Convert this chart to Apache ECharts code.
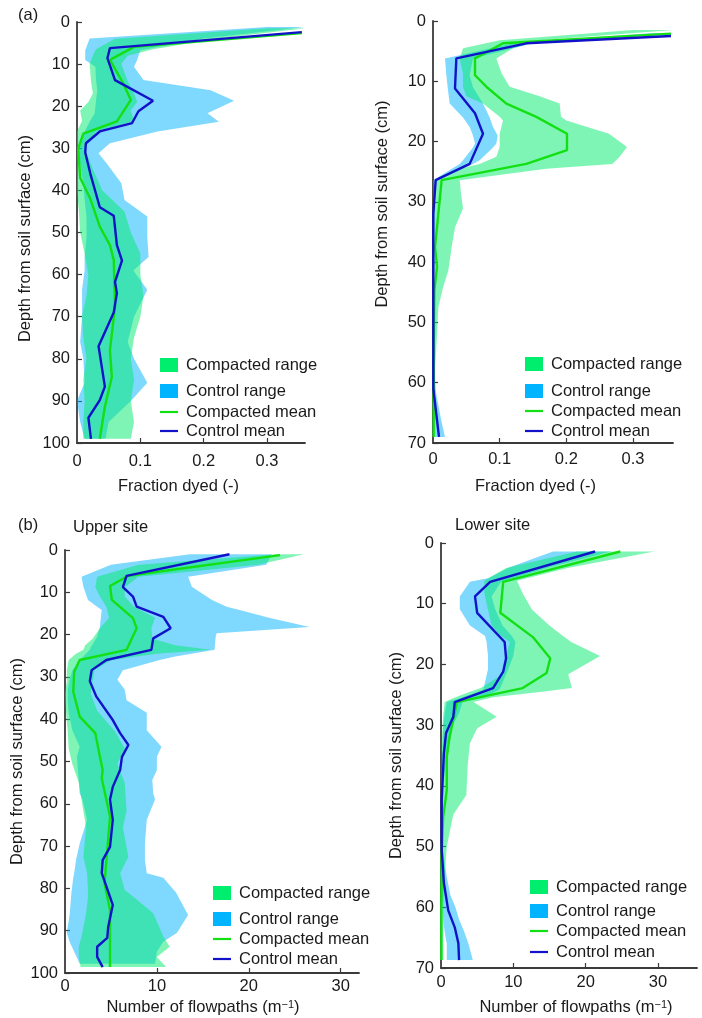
<!DOCTYPE html>
<html><head><meta charset="utf-8">
<script src="https://cdn.jsdelivr.net/npm/echarts@6/dist/echarts.min.js"></script>
<style>html,body{margin:0;padding:0;background:#fff}#c{width:702px;height:1018px}</style>
</head><body><div id="c"></div>
<script>
const FONT = '"Liberation Sans", Arial, Helvetica, sans-serif';
const TXT = '#1a1a1a';
const AX = '#3a3a3a';
const C_CMP_FILL = 'rgba(0,236,108,0.5)';
const C_CTL_FILL = 'rgba(0,178,252,0.5)';
const C_CMP_SOLID = 'rgb(0,238,110)';
const C_CTL_SOLID = 'rgb(0,180,255)';
const C_CMP_LINE = '#12e012';
const C_CTL_LINE = '#1212c8';

const xTicksFrac = [0, 0.1, 0.2, 0.3];
const xTicksFlow = [0, 10, 20, 30];
const yTicks100 = [0, 10, 20, 30, 40, 50, 60, 70, 80, 90, 100];
const yTicks70 = [0, 10, 20, 30, 40, 50, 60, 70];

// ---------- Panel (a) left: fraction dyed, upper site ----------
const a1CmpMeanDepth = [2.6, 5.9, 9, 14.6, 18.5, 23.6, 26.5, 30, 37, 42, 48.6, 53, 56.5, 67.6, 78, 84.3, 91.4, 99];
const a1CmpMean = [0.355, 0.09, 0.052, 0.073, 0.085, 0.063, 0.01, 0.002, 0.005, 0.021, 0.036, 0.052, 0.058, 0.06, 0.052, 0.055, 0.044, 0.036];
const a1CtlMeanDepth = [2.4, 6.2, 8.6, 13.8, 18.7, 21.2, 24, 26, 28.8, 31, 36, 44, 46, 53, 56.7, 61.7, 64.4, 69, 77, 86.6, 89.8, 94, 99];
const a1CtlMean = [0.355, 0.052, 0.048, 0.06, 0.12, 0.097, 0.087, 0.036, 0.014, 0.013, 0.021, 0.036, 0.058, 0.063, 0.071, 0.06, 0.063, 0.058, 0.034, 0.044, 0.036, 0.018, 0.022];
const a1CtlRangeDepth = [1.2, 3.9, 6.7, 9, 10.6, 13.8, 16.2, 18.7, 21.7, 23.7, 26, 28.8, 31.2, 33.6, 38.3, 42.3, 46.2, 51, 55.8, 59, 63.6, 70, 76, 80, 85.7, 90, 95, 99];
const a1CtlLo = [0.30, 0.02, 0.013, 0.013, 0.029, 0.03, 0.032, 0.03, 0.028, 0.02, 0.012, 0.005, 0.003, 0.005, 0.01, 0.012, 0.015, 0.015, 0.012, 0.012, 0.008, 0.008, 0.005, 0.01, 0.012, 0.0, 0.005, 0.012];
const a1CtlHi = [0.36, 0.2, 0.1, 0.095, 0.09, 0.105, 0.211, 0.248, 0.206, 0.224, 0.127, 0.052, 0.034, 0.047, 0.07, 0.075, 0.111, 0.111, 0.113, 0.089, 0.111, 0.09, 0.08, 0.09, 0.111, 0.085, 0.05, 0.045];
const a1CmpRangeDepth = [1.5, 4, 6.5, 8, 10, 14, 17, 19, 21, 23.5, 26, 30, 35, 40, 45, 50, 55, 60, 65, 70, 75, 80, 85, 90, 95, 99];
const a1CmpLo = [0.30, 0.06, 0.03, 0.025, 0.02, 0.022, 0.025, 0.018, 0.005, 0.008, 0.0, 0.0, 0.0, 0.0, 0.003, 0.005, 0.012, 0.018, 0.015, 0.008, 0.01, 0.015, 0.01, 0.012, 0.01, 0.01];
const a1CmpHi = [0.36, 0.22, 0.12, 0.08, 0.07, 0.08, 0.09, 0.095, 0.085, 0.09, 0.03, 0.012, 0.025, 0.04, 0.075, 0.085, 0.1, 0.1, 0.105, 0.1, 0.09, 0.085, 0.09, 0.085, 0.09, 0.085];

// ---------- Panel (a) right: fraction dyed, lower site ----------
const a2CmpMeanDepth = [2.1, 3.7, 6.2, 9, 10.9, 13.7, 15.9, 18.7, 21.4, 23.7, 26.4, 32, 37.5, 40.8, 44.7, 55, 69];
const a2CmpMean = [0.357, 0.105, 0.063, 0.063, 0.08, 0.11, 0.155, 0.201, 0.201, 0.14, 0.013, 0.008, 0.003, 0.006, 0.002, 0.001, 0.001];
const a2CtlMeanDepth = [2.5, 3.7, 6.2, 11.2, 15.3, 18.7, 23.7, 26.4, 32, 45, 61, 69];
const a2CtlMean = [0.357, 0.14, 0.035, 0.033, 0.063, 0.075, 0.055, 0.004, 0.0005, 0.0005, 0.0005, 0.009];
const a2CtlRangeDepth = [2, 3.7, 6.2, 9, 11, 13.7, 16, 17.6, 19, 20.3, 21, 23.1, 23.7, 26.4, 30, 40, 50, 58, 62, 66, 69];
const a2CtlLo = [0.33, 0.12, 0.018, 0.02, 0.022, 0.025, 0.045, 0.055, 0.06, 0.063, 0.06, 0.045, 0.04, 0.0, 0, 0, 0, 0, 0, 0.001, 0.002];
const a2CtlHi = [0.36, 0.15, 0.06, 0.055, 0.06, 0.075, 0.085, 0.09, 0.097, 0.095, 0.09, 0.07, 0.06, 0.006, 0.002, 0.001, 0.001, 0.002, 0.005, 0.012, 0.018];
const a2CmpRangeDepth = [1.5, 3.2, 4.5, 6.2, 8.7, 10.9, 12.5, 13.7, 15.9, 16.5, 18.7, 20.9, 22.5, 23.7, 24.5, 26.4, 28.6, 31.1, 34.2, 37.5, 41.4, 44.2, 47.5, 52, 58, 64, 69];
const a2CmpLo = [0.30, 0.10, 0.045, 0.04, 0.045, 0.045, 0.05, 0.075, 0.1, 0.105, 0.1, 0.1, 0.095, 0.07, 0.04, 0.004, 0.002, 0.0, 0.0, 0.0, 0.0, 0.0, 0.0, 0.0, 0.0, 0.0, 0.0];
const a2CmpHi = [0.36, 0.16, 0.12, 0.095, 0.103, 0.115, 0.16, 0.19, 0.192, 0.2, 0.264, 0.291, 0.28, 0.269, 0.17, 0.04, 0.042, 0.045, 0.033, 0.028, 0.023, 0.015, 0.008, 0.006, 0.003, 0.003, 0.003];

// ---------- Panel (b) left: flowpaths, upper site ----------
const b1CtlMeanDepth = [1, 6.1, 8.8, 11, 13.4, 15.8, 18.5, 20.9, 23.6, 26, 28.4, 31, 34.6, 40.2, 43.3, 46.1, 48.9, 52, 56, 59, 63.8, 70.2, 73.3, 76.4, 83.9, 89.1, 91.7, 93.8, 96.2, 98.6];
const b1CtlMean = [17.9, 6.7, 6.3, 7.4, 7.8, 10.7, 11.5, 9.6, 9.4, 4.5, 2.9, 2.7, 3.4, 5.2, 6, 6.9, 6.2, 6, 5.2, 4.9, 5.2, 4.9, 4.1, 4, 5.2, 4.7, 4.6, 3.5, 3.5, 4.1];
const b1CmpMeanDepth = [1.2, 6.1, 8.5, 11.8, 16.1, 18.5, 23.6, 26, 28.8, 33.5, 39.4, 43.3, 48.9, 52, 54, 63, 71, 78.8, 85.1, 98.6];
const b1CmpMean = [23.4, 6.9, 4.9, 5.1, 7.4, 7.8, 6.7, 1.6, 1, 0.9, 1.6, 3.3, 3.8, 4.1, 4, 4.9, 4.6, 4.3, 4.9, 4.9];
const b1CtlRangeDepth = [1, 3.5, 6.3, 8.7, 11.8, 13.4, 14.2, 16, 18.2, 19.7, 20.5, 23, 23.6, 25.2, 26, 28.4, 30.7, 33, 35.5, 38.5, 42.6, 46.5, 48.9, 52, 54.4, 57.5, 59, 63.8, 69.4, 73.3, 76.4, 77.5, 81, 86.3, 90.5, 92.6, 95, 97.8];
const b1CtlLo = [13.6, 5, 1.8, 2, 2.5, 3.5, 4, 3.9, 3.8, 3.6, 3.5, 2.8, 2.7, 2, 1.6, 0.8, 0.5, 0.3, 0.3, 0.4, 0.8, 1.6, 1.3, 1.4, 1.5, 1.6, 1.9, 2.4, 1.6, 1.2, 1.0, 0.9, 0.7, 0.5, 0.2, 0.5, 1.0, 1.6];
const b1CtlHi = [22.5, 21.9, 13.4, 13.8, 16, 17.6, 19, 22.2, 26.6, 16.5, 16.4, 16.3, 16.3, 12, 10.3, 6.3, 5.7, 6.5, 6.7, 8.9, 8.9, 10.5, 10, 10, 9.5, 9.6, 9.8, 8.9, 8.7, 8.7, 8.9, 10.7, 12.1, 13.4, 12.2, 10.7, 10, 9.8];
const b1CmpRangeDepth = [1, 3.5, 6.3, 8.8, 11, 13.4, 16, 18.5, 21, 22.5, 23.6, 24.5, 26, 28.4, 31, 34, 38, 43, 47, 50.6, 55, 61.7, 65.6, 72.5, 76.4, 80.4, 81.9, 85.9, 91.4, 93.8, 96.2, 98.6];
const b1CmpLo = [23, 8, 3.5, 3.3, 3.8, 4.5, 4.8, 3.8, 3, 2.2, 2, 1.2, 0.4, 0.2, 0.2, 0.0, 0.1, 0.3, 0.4, 0.8, 1.5, 2.0, 2.3, 2.0, 2.4, 2.5, 2.5, 2.3, 1.8, 1.5, 1.5, 1.7];
const b1CmpHi = [26, 21, 8, 6.5, 6.5, 7.5, 9.8, 9.4, 9.5, 12, 15.8, 10, 5, 3.2, 3, 2.8, 3.5, 5.5, 6.5, 5.7, 6.5, 6.7, 6.3, 6.9, 6, 6.5, 7.4, 9.6, 10.7, 11.4, 10, 11];

// ---------- Panel (b) right: flowpaths, lower site ----------
const b2CtlMeanDepth = [1.4, 6.4, 8.8, 11.5, 16.3, 19, 21.2, 23.9, 26.2, 28.6, 31.3, 34.6, 42.3, 50.6, 56, 60.5, 63.3, 65.9, 68.7];
const b2CtlMean = [21.3, 6.8, 4.7, 5, 8.8, 9, 8.6, 7.2, 1.9, 1.7, 0.7, 0.4, 0.1, 0.1, 0.4, 1, 1.9, 2.4, 2.5];
const b2CmpMeanDepth = [1.4, 6.4, 11.5, 15.5, 19, 21.4, 23.9, 26.2, 31.9, 35.2, 40.7, 45.1, 50.6, 60, 68.7];
const b2CmpMean = [24.8, 8.6, 8.2, 12.7, 15.1, 14.6, 11.3, 2.2, 1.2, 0.8, 0.8, 0.3, 0.1, 0.05, 0.05];
const b2CtlRangeDepth = [1.4, 4, 5.8, 6.4, 8.8, 10.9, 13.6, 15.3, 16.3, 18.6, 20.8, 23.9, 24.2, 25.4, 26.2, 28, 30.4, 35, 40, 50, 55, 58, 60, 62, 64, 66, 68.7];
const b2CtlLo = [15.5, 9.5, 6.5, 4, 2.6, 2.6, 4, 6.1, 6.3, 6.5, 6.5, 5.9, 5.8, 3, 0.8, 0.5, 0.3, 0.2, 0.1, 0.0, 0.0, 0.1, 0.2, 0.3, 0.5, 0.8, 0.8];
const b2CtlHi = [23.5, 15, 10, 8.3, 7, 7.5, 8.5, 9.8, 10.3, 10, 9.3, 8.2, 8, 6, 3, 2.5, 1.5, 0.8, 0.3, 0.2, 0.8, 1.3, 2, 2.5, 3.2, 3.8, 4.4];
const b2CmpRangeDepth = [1.4, 4.1, 6.2, 8.3, 11, 13.6, 15, 16.3, 18.6, 21.6, 23.9, 24.5, 25.4, 26.2, 28.6, 30.5, 33, 36.5, 41.5, 44.7, 50, 55, 60, 64, 68.7];
const b2CmpLo = [18.8, 9, 6, 6, 6.5, 7, 8, 9.5, 9, 8.5, 5.5, 4, 2, 0.5, 0.3, 0.2, 0.1, 0.1, 0.0, 0.0, 0.0, 0.0, 0.0, 0.0, 0.0];
const b2CmpHi = [29.5, 17.5, 10.5, 11.3, 12.6, 15, 16.5, 18, 22, 17.6, 18.1, 14, 7.2, 4.5, 7.7, 5, 4, 3.7, 3.5, 1.7, 0.8, 0.5, 0.3, 0.3, 0.3];

const NAMES = {cmpR: 'Compacted range', ctlR: 'Control range', cmpM: 'Compacted mean', ctlM: 'Control mean'};

function band(name, idx, depth, lo, hi, fill, z) {
  return {
    type: 'custom', name: name, xAxisIndex: idx, yAxisIndex: idx, silent: true, z: z,
    data: depth.map((d, i) => [lo[i], hi[i], d]),
    encode: {x: [0, 1], y: 2},
    renderItem: function (params, api) {
      if (params.dataIndex !== 0) return null;
      const pts = [];
      for (let i = 0; i < depth.length; i++) pts.push(api.coord([lo[i], depth[i]]));
      for (let i = depth.length - 1; i >= 0; i--) pts.push(api.coord([hi[i], depth[i]]));
      return {type: 'polygon', shape: {points: pts}, style: {fill: fill}};
    }
  };
}
function meanLine(name, idx, depth, vals, color) {
  return {
    type: 'line', name: name, xAxisIndex: idx, yAxisIndex: idx, silent: true, z: 5,
    data: depth.map((d, i) => [vals[i], d]),
    showSymbol: false, symbol: 'none',
    lineStyle: {width: 2.4, color: color}, itemStyle: {color: color}
  };
}
const txt = {fontSize: 16.5, fontFamily: FONT, color: TXT};

function xAxis(idx, max, ticks, name, labelMargin, nameGap, namePad) {
  return {
    type: 'value', gridIndex: idx, min: 0, max: max, position: 'bottom',
    splitLine: {show: false},
    axisLine: {show: true, onZero: false, lineStyle: {color: AX, width: 1.8}},
    axisTick: {show: true, inside: true, length: 5, lineStyle: {color: AX, width: 1.2}, customValues: ticks.slice(1)},
    axisLabel: Object.assign({margin: labelMargin, customValues: ticks}, txt),
    name: name, nameLocation: 'middle', nameGap: nameGap,
    nameTextStyle: Object.assign({lineHeight: 16, padding: namePad,
      rich: {sup: {fontSize: 11, fontFamily: FONT, color: TXT, verticalAlign: 'top', lineHeight: 16}}}, txt)
  };
}
function yAxis(idx, max, ticks, nameGap, namePad) {
  return {
    type: 'value', gridIndex: idx, min: 0, max: max, inverse: true, position: 'left',
    splitLine: {show: false},
    axisLine: {show: true, onZero: false, lineStyle: {color: AX, width: 1.8}},
    axisTick: {show: true, inside: true, length: 5, lineStyle: {color: AX, width: 1.2}, customValues: ticks},
    axisLabel: Object.assign({margin: 7, customValues: ticks}, txt),
    name: 'Depth from soil surface (cm)', nameLocation: 'middle', nameGap: nameGap,
    nameTextStyle: Object.assign({lineHeight: 16, padding: namePad}, txt)
  };
}
function legendSet(left, rows) {
  const items = [
    [NAMES.cmpR, C_CMP_SOLID, 14],
    [NAMES.ctlR, C_CTL_SOLID, 14],
    [NAMES.cmpM, C_CMP_LINE, 2.2],
    [NAMES.ctlM, C_CTL_LINE, 2.2]
  ];
  return items.map((it, k) => ({
    left: left, top: rows[k] - 9, padding: 0, orient: 'vertical', selectedMode: false,
    itemWidth: 18, itemHeight: it[2],
    data: [{name: it[0], icon: 'rect', itemStyle: {color: it[1], borderWidth: 0}}],
    textStyle: Object.assign({lineHeight: 18, padding: [0, 0, 0, 3]}, txt)
  }));
}

const option = {
  animation: false,
  backgroundColor: '#ffffff',
  title: [
    {text: '(a)', left: 18, top: 7, padding: 0, textStyle: Object.assign({fontWeight: 'normal', lineHeight: 16}, txt)},
    {text: '(b)', left: 18, top: 517, padding: 0, textStyle: Object.assign({fontWeight: 'normal', lineHeight: 16}, txt)},
    {text: 'Upper site', left: 73, top: 519, padding: 0, textStyle: Object.assign({fontWeight: 'normal', lineHeight: 16}, txt)},
    {text: 'Lower site', left: 455, top: 517, padding: 0, textStyle: Object.assign({fontWeight: 'normal', lineHeight: 16}, txt)}
  ],
  grid: [
    {left: 77, top: 22, width: 228, height: 421},
    {left: 433, top: 21, width: 240, height: 422},
    {left: 65, top: 550, width: 294, height: 423},
    {left: 441, top: 543, width: 256, height: 425}
  ],
  xAxis: [
    xAxis(0, 0.36, xTicksFrac, 'Fraction dyed (-)', 10, 35, [0, 25, 0, 0]),
    xAxis(1, 0.36, xTicksFrac, 'Fraction dyed (-)', 8, 35, [0, 35, 0, 0]),
    xAxis(2, 32, xTicksFlow, 'Number of flowpaths (m{sup|\u22121})', 5, 26, [0, 18, 0, 0]),
    xAxis(3, 35.4, xTicksFlow, 'Number of flowpaths (m{sup|\u22121})', 6, 31, [0, 0, 0, 14])
  ],
  yAxis: [
    yAxis(0, 100, yTicks100, 44, [0, 12, 0, 0]),
    yAxis(1, 70, yTicks70, 43, [0, 0, 0, 56]),
    yAxis(2, 100, yTicks100, 40, [0, 0, 0, 0]),
    yAxis(3, 70, yTicks70, 37, [0, 0, 0, 0])
  ],
  legend: [].concat(
    legendSet(160, [365, 391, 412, 431]),
    legendSet(525, [364, 391, 411, 431]),
    legendSet(213, [893, 919, 939, 959]),
    legendSet(530, [887, 911, 931, 952])
  ),
  series: [
    band(NAMES.ctlR, 0, a1CtlRangeDepth, a1CtlLo, a1CtlHi, C_CTL_FILL, 1),
    band(NAMES.cmpR, 0, a1CmpRangeDepth, a1CmpLo, a1CmpHi, C_CMP_FILL, 2),
    meanLine(NAMES.cmpM, 0, a1CmpMeanDepth, a1CmpMean, C_CMP_LINE),
    meanLine(NAMES.ctlM, 0, a1CtlMeanDepth, a1CtlMean, C_CTL_LINE),

    band(NAMES.ctlR, 1, a2CtlRangeDepth, a2CtlLo, a2CtlHi, C_CTL_FILL, 1),
    band(NAMES.cmpR, 1, a2CmpRangeDepth, a2CmpLo, a2CmpHi, C_CMP_FILL, 2),
    meanLine(NAMES.cmpM, 1, a2CmpMeanDepth, a2CmpMean, C_CMP_LINE),
    meanLine(NAMES.ctlM, 1, a2CtlMeanDepth, a2CtlMean, C_CTL_LINE),

    band(NAMES.ctlR, 2, b1CtlRangeDepth, b1CtlLo, b1CtlHi, C_CTL_FILL, 1),
    band(NAMES.cmpR, 2, b1CmpRangeDepth, b1CmpLo, b1CmpHi, C_CMP_FILL, 2),
    meanLine(NAMES.cmpM, 2, b1CmpMeanDepth, b1CmpMean, C_CMP_LINE),
    meanLine(NAMES.ctlM, 2, b1CtlMeanDepth, b1CtlMean, C_CTL_LINE),

    band(NAMES.ctlR, 3, b2CtlRangeDepth, b2CtlLo, b2CtlHi, C_CTL_FILL, 1),
    band(NAMES.cmpR, 3, b2CmpRangeDepth, b2CmpLo, b2CmpHi, C_CMP_FILL, 2),
    meanLine(NAMES.cmpM, 3, b2CmpMeanDepth, b2CmpMean, C_CMP_LINE),
    meanLine(NAMES.ctlM, 3, b2CtlMeanDepth, b2CtlMean, C_CTL_LINE)
  ]
};
const chart = echarts.init(document.getElementById('c'), null, {renderer: 'canvas'});
chart.setOption(option);
</script></body></html>
